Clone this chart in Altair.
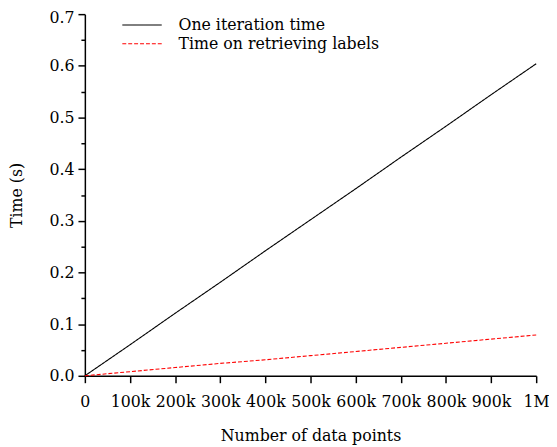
import altair as alt
import pandas as pd

# Data
n_points = [0, 100000, 200000, 300000, 400000, 500000, 600000, 700000, 800000, 900000, 1000000]
iteration_time = [0.0, 0.060, 0.121, 0.181, 0.242, 0.302, 0.362, 0.423, 0.483, 0.544, 0.604]
retrieve_time = [0.0, 0.008, 0.016, 0.024, 0.031, 0.039, 0.047, 0.055, 0.063, 0.071, 0.079]
series_names = ["One iteration time", "Time on retrieving labels"]
x_ticks = [0, 100000, 200000, 300000, 400000, 500000, 600000, 700000, 800000, 900000, 1000000]
y_ticks = [0.0, 0.05, 0.1, 0.15, 0.2, 0.25, 0.3, 0.35, 0.4, 0.45, 0.5, 0.55, 0.6, 0.65, 0.7]

rows = []
for x, a, b in zip(n_points, iteration_time, retrieve_time):
    rows.append({"n": x, "t": a, "series": series_names[0]})
    rows.append({"n": x, "t": b, "series": series_names[1]})
df = pd.DataFrame(rows)

FONT = "DejaVu Serif"
FS = 16

major_test = "abs(round(datum.value*10) - datum.value*10) < 0.001"

chart = alt.Chart(df).mark_line(strokeWidth=1.1, clip=False).encode(
    x=alt.X(
        "n:Q",
        title="Number of data points",
        scale=alt.Scale(domain=[0, 1000000], nice=False, zero=True),
        axis=alt.Axis(
            values=x_ticks,
            labelExpr="datum.value == 0 ? '0' : (datum.value >= 1000000 ? '1M' : (datum.value/1000) + 'k')",
            labelFlush=False,
            labelOverlap=False,
            grid=False,
            tickSize=7,
            labelPadding=11,
            titlePadding=19,
        ),
    ),
    y=alt.Y(
        "t:Q",
        title="Time (s)",
        scale=alt.Scale(domain=[0, 0.7], nice=False),
        axis=alt.Axis(
            values=y_ticks,
            labelExpr=f"{major_test} ? format(datum.value, '.1f') : ''",
            tickSize={"condition": {"test": major_test, "value": 7}, "value": 4},
            labelOffset={"condition": {"test": "datum.value > 0.65", "value": 3}, "value": 0},
            labelFlush=False,
            labelOverlap=False,
            grid=False,
            labelPadding=4,
            titlePadding=25,
        ),
    ),
    color=alt.Color(
        "series:N",
        scale=alt.Scale(domain=series_names, range=["#000000", "#ff0000"]),
        legend=alt.Legend(
            title=None,
            orient="none",
            legendX=50,
            legendY=3,
            symbolType="M-4,0H4",
            symbolSize=100,
            symbolStrokeWidth=1.1,
            labelFontSize=FS,
            labelFont=FONT,
            labelColor="#000000",
            labelLimit=400,
            labelOffset=29,
            rowPadding=3,
            padding=0,
        ),
    ),
    strokeDash=alt.StrokeDash(
        "series:N",
        scale=alt.Scale(domain=series_names, range=[[1, 0], [4, 2]]),
        legend=None,
    ),
).properties(
    width=458,
    height=367,
    padding={"left": 78, "top": 3, "right": 13, "bottom": 68},
    autosize=alt.AutoSizeParams(type="none"),
    background="#ffffff",
).configure(
    font=FONT
).configure_view(
    stroke=None
).configure_axis(
    domainColor="#000000",
    domainWidth=1.5,
    tickColor="#000000",
    tickWidth=1.5,
    labelFont=FONT,
    labelFontSize=FS,
    labelColor="#000000",
    titleFont=FONT,
    titleFontSize=FS,
    titleFontWeight="normal",
    titleColor="#000000",
)

chart.save("out.html", embed_options={"renderer": "svg", "actions": False})
